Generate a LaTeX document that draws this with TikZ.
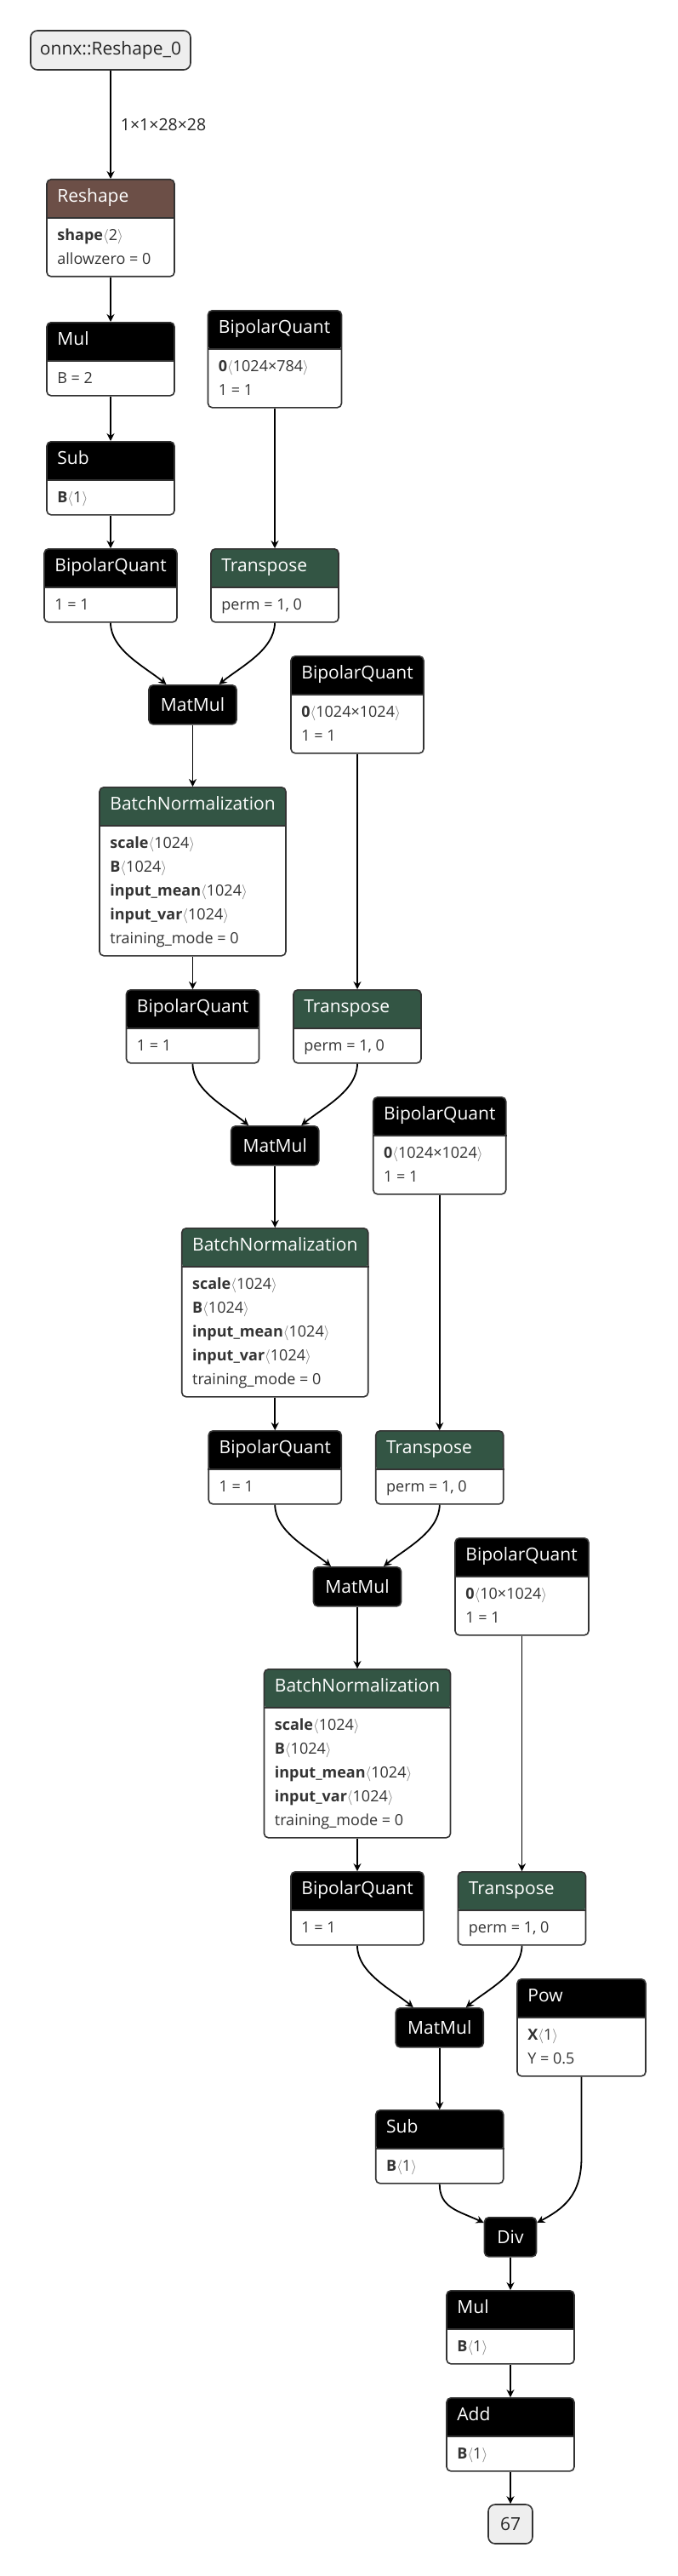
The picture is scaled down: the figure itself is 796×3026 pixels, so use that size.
\documentclass[tikz,border=0pt]{standalone}
\usepackage{fontspec}
\setmainfont{Open Sans}
\usetikzlibrary{arrows.meta}

\definecolor{boxline}{HTML}{333333}
\definecolor{hdbrown}{HTML}{6C4F47}
\definecolor{hdgreen}{HTML}{335544}
\definecolor{iofill}{HTML}{EEEEEE}

% box with a coloured title bar: name, centre x, top y, width, rows, colour, title
\newcommand{\opnode}[7]{%
	\node[opbox, minimum width=#4, minimum height={58+28*#5},
		path picture={\fill[#6] (path picture bounding box.north west) rectangle ([yshift=-46pt]path picture bounding box.north east);}] (#1) at (#2,#3) {};
	\draw[boxline, line width=1.5pt] ([yshift=-46pt]#1.north west) -- ([yshift=-46pt]#1.north east);
	\node[hdtext, anchor=mid west] (#1t) at ([shift={(13,25)}]#1.north west) {#7};
}
% title bar only: name, centre x, top y, width, title
\newcommand{\opchip}[5]{%
	\node[opbox, fill=black, text=white, font=\fontsize{21}{25}\selectfont, minimum width=#4, minimum height=46] (#1) at (#2,#3) {#5};
}
% one attribute line: box, line number, text
\newcommand{\oprow}[3]{%
	\node[rowtext, anchor=mid west] (#1r#2) at ([shift={(13,{42+28*#2})}]#1.north west) {#3};
}
\newcommand{\ang}[1]{{\color{black!55}$\langle$}#1{\color{black!55}$\rangle$}}

\begin{document}
\begin{tikzpicture}[x=1pt, y=-1pt,
	opbox/.style={draw=boxline, line width=1.6pt, rounded corners=5pt, fill=white, inner sep=0pt, anchor=north},
	hdtext/.style={text=white, font=\fontsize{21}{25}\selectfont, inner sep=0pt},
	rowtext/.style={text=black!80, font=\fontsize{18}{22}\selectfont, inner sep=0pt},
	iobox/.style={draw=boxline, line width=1.6pt, rounded corners=8pt, fill=iofill, inner sep=0pt, text=black!85, font=\fontsize{21}{25}\selectfont},
	elabel/.style={midway, right, xshift=11pt, inner sep=0pt, text=black!85, font=\fontsize{19.5}{23}\selectfont},
	edge/.style={draw=black, line width=1.8pt, -{Stealth[length=9pt, width=9pt, inset=3pt]}}]
	\useasboundingbox (0,0) rectangle (796,3026);

	\node[iobox, minimum width=188, minimum height=46] (in) at (130,59) {onnx::Reshape\_0};
	\opnode{reshape}{130}{210}{150}{2}{hdbrown}{Reshape}
	\oprow{reshape}{1}{\textbf{shape}\ang{2}}
	\oprow{reshape}{2}{allowzero = 0}
	\opnode{mul1}{130}{378}{150}{1}{black}{Mul}
	\oprow{mul1}{1}{B = 2}
	\opnode{sub1}{130}{518}{150}{1}{black}{Sub}
	\oprow{sub1}{1}{\textbf{B}\ang{1}}

	% first layer
	\opnode{bqw1}{323}{364}{157}{2}{black}{BipolarQuant}
	\oprow{bqw1}{1}{\textbf{0}\ang{1024×784}}
	\oprow{bqw1}{2}{1 = 1}
	\opnode{bqa1}{130}{644}{156}{1}{black}{BipolarQuant}
	\oprow{bqa1}{1}{1 = 1}
	\opnode{tr1}{323}{644}{150}{1}{hdgreen}{Transpose}
	\oprow{tr1}{1}{perm = 1, 0}
	\opchip{mm1}{226.5}{804}{103}{MatMul}
	\opnode{bn1}{226.5}{924}{219}{5}{hdgreen}{BatchNormalization}
	\oprow{bn1}{1}{\textbf{scale}\ang{1024}}
	\oprow{bn1}{2}{\textbf{B}\ang{1024}}
	\oprow{bn1}{3}{\textbf{input\_mean}\ang{1024}}
	\oprow{bn1}{4}{\textbf{input\_var}\ang{1024}}
	\oprow{bn1}{5}{training\_mode = 0}

	% second layer
	\opnode{bqw2}{420}{770}{156}{2}{black}{BipolarQuant}
	\oprow{bqw2}{1}{\textbf{0}\ang{1024×1024}}
	\oprow{bqw2}{2}{1 = 1}
	\opnode{bqa2}{226.5}{1162}{156}{1}{black}{BipolarQuant}
	\oprow{bqa2}{1}{1 = 1}
	\opnode{tr2}{420}{1162}{150}{1}{hdgreen}{Transpose}
	\oprow{tr2}{1}{perm = 1, 0}
	\opchip{mm2}{323.25}{1322}{103}{MatMul}
	\opnode{bn2}{323.25}{1442}{219}{5}{hdgreen}{BatchNormalization}
	\oprow{bn2}{1}{\textbf{scale}\ang{1024}}
	\oprow{bn2}{2}{\textbf{B}\ang{1024}}
	\oprow{bn2}{3}{\textbf{input\_mean}\ang{1024}}
	\oprow{bn2}{4}{\textbf{input\_var}\ang{1024}}
	\oprow{bn2}{5}{training\_mode = 0}

	% third layer
	\opnode{bqw3}{516.75}{1288}{156}{2}{black}{BipolarQuant}
	\oprow{bqw3}{1}{\textbf{0}\ang{1024×1024}}
	\oprow{bqw3}{2}{1 = 1}
	\opnode{bqa3}{323.25}{1680}{156}{1}{black}{BipolarQuant}
	\oprow{bqa3}{1}{1 = 1}
	\opnode{tr3}{516.75}{1680}{150}{1}{hdgreen}{Transpose}
	\oprow{tr3}{1}{perm = 1, 0}
	\opchip{mm3}{420}{1840}{103}{MatMul}
	\opnode{bn3}{420}{1960}{219}{5}{hdgreen}{BatchNormalization}
	\oprow{bn3}{1}{\textbf{scale}\ang{1024}}
	\oprow{bn3}{2}{\textbf{B}\ang{1024}}
	\oprow{bn3}{3}{\textbf{input\_mean}\ang{1024}}
	\oprow{bn3}{4}{\textbf{input\_var}\ang{1024}}
	\oprow{bn3}{5}{training\_mode = 0}

	% output layer
	\opnode{bqw4}{613.5}{1806}{157}{2}{black}{BipolarQuant}
	\oprow{bqw4}{1}{\textbf{0}\ang{10×1024}}
	\oprow{bqw4}{2}{1 = 1}
	\opnode{bqa4}{420}{2198}{156}{1}{black}{BipolarQuant}
	\oprow{bqa4}{1}{1 = 1}
	\opnode{tr4}{613.5}{2198}{150}{1}{hdgreen}{Transpose}
	\oprow{tr4}{1}{perm = 1, 0}
	\opchip{mm4}{516.75}{2358}{103}{MatMul}
	\opnode{pow}{683.5}{2324}{151}{2}{black}{Pow}
	\oprow{pow}{1}{\textbf{X}\ang{1}}
	\oprow{pow}{2}{Y = 0.5}
	\opnode{sub2}{516.75}{2478}{150}{1}{black}{Sub}
	\oprow{sub2}{1}{\textbf{B}\ang{1}}
	\opchip{div}{600}{2604}{61}{Div}
	\opnode{mul2}{600}{2690}{150}{1}{black}{Mul}
	\oprow{mul2}{1}{\textbf{B}\ang{1}}
	\opnode{add}{600}{2816}{150}{1}{black}{Add}
	\oprow{add}{1}{\textbf{B}\ang{1}}
	\node[iobox, minimum width=52, minimum height=46] (out) at (600,2965) {67};

	\draw[edge] (in) -- (reshape) node[elabel] {1×1×28×28};
	\draw[edge] (reshape) -- (mul1);
	\draw[edge] (mul1) -- (sub1);
	\draw[edge] (sub1) -- (bqa1);
	\draw[edge] (bqw1) -- (tr1);
	\draw[edge] (bqa1.south) .. controls +(0,32) and +(-24,-20) .. ([xshift=-31pt]mm1.north);
	\draw[edge] (tr1.south) .. controls +(0,32) and +(24,-20) .. ([xshift=31pt]mm1.north);
	\draw[edge] (mm1) -- (bn1);
	\draw[edge] (bn1) -- (bqa2);
	\draw[edge] (bqw2) -- (tr2);
	\draw[edge] (bqa2.south) .. controls +(0,32) and +(-24,-20) .. ([xshift=-31pt]mm2.north);
	\draw[edge] (tr2.south) .. controls +(0,32) and +(24,-20) .. ([xshift=31pt]mm2.north);
	\draw[edge] (mm2) -- (bn2);
	\draw[edge] (bn2) -- (bqa3);
	\draw[edge] (bqw3) -- (tr3);
	\draw[edge] (bqa3.south) .. controls +(0,32) and +(-24,-20) .. ([xshift=-31pt]mm3.north);
	\draw[edge] (tr3.south) .. controls +(0,32) and +(24,-20) .. ([xshift=31pt]mm3.north);
	\draw[edge] (mm3) -- (bn3);
	\draw[edge] (bn3) -- (bqa4);
	\draw[edge] (bqw4) -- (tr4);
	\draw[edge] (bqa4.south) .. controls +(0,32) and +(-24,-20) .. ([xshift=-31pt]mm4.north);
	\draw[edge] (tr4.south) .. controls +(0,32) and +(24,-20) .. ([xshift=31pt]mm4.north);
	\draw[edge] (mm4) -- (sub2);
	\draw[edge] (sub2.south) .. controls +(0,28) and +(-30,-14) .. ([yshift=-7pt]div.north west);
	\draw[edge] (pow.south) -- ++(0,95) .. controls +(0,45) and +(30,-16) .. ([yshift=-7pt]div.north east);
	\draw[edge] (div) -- (mul2);
	\draw[edge] (mul2) -- (add);
	\draw[edge] (add) -- (out);
\end{tikzpicture}
\end{document}
